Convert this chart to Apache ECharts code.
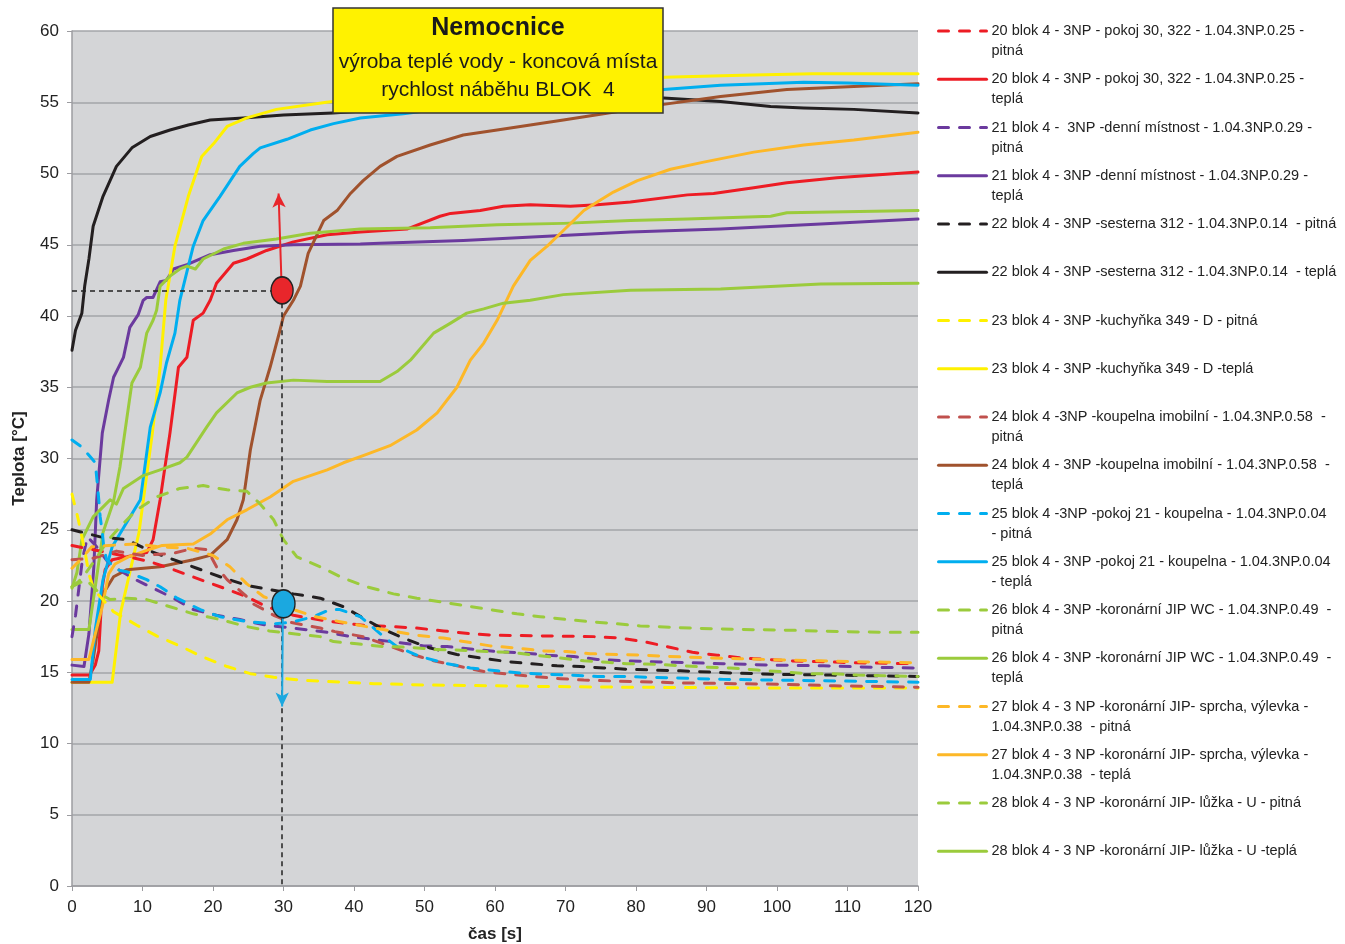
<!DOCTYPE html>
<html>
<head>
<meta charset="utf-8">
<script src="https://cdn.jsdelivr.net/npm/echarts@6/dist/echarts.min.js"></script>
<style>
  html, body { margin: 0; padding: 0; background: #fff; }
  #chart { width: 1345px; height: 944px; }
</style>
</head>
<body>
<div id="chart"></div>
<script>
// nazvy serii (legenda)
var seriesNames = [
  '20 blok 4 - 3NP - pokoj 30, 322 - 1.04.3NP.0.25 - pitná',
  '20 blok 4 - 3NP - pokoj 30, 322 - 1.04.3NP.0.25 - teplá',
  '21 blok 4 -  3NP -denní místnost - 1.04.3NP.0.29 - pitná',
  '21 blok 4 - 3NP -denní místnost - 1.04.3NP.0.29 - teplá',
  '22 blok 4 - 3NP -sesterna 312 - 1.04.3NP.0.14  - pitná',
  '22 blok 4 - 3NP -sesterna 312 - 1.04.3NP.0.14  - teplá',
  '23 blok 4 - 3NP -kuchyňka 349 - D - pitná',
  '23 blok 4 - 3NP -kuchyňka 349 - D -teplá',
  '24 blok 4 -3NP -koupelna imobilní - 1.04.3NP.0.58  - pitná',
  '24 blok 4 - 3NP -koupelna imobilní - 1.04.3NP.0.58  - teplá',
  '25 blok 4 -3NP -pokoj 21 - koupelna - 1.04.3NP.0.04 - pitná',
  '25 blok 4 - 3NP -pokoj 21 - koupelna - 1.04.3NP.0.04 - teplá',
  '26 blok 4 - 3NP -koronární JIP WC - 1.04.3NP.0.49  - pitná',
  '26 blok 4 - 3NP -koronární JIP WC - 1.04.3NP.0.49  - teplá',
  '27 blok 4 - 3 NP -koronární JIP- sprcha, výlevka - 1.04.3NP.0.38  - pitná',
  '27 blok 4 - 3 NP -koronární JIP- sprcha, výlevka - 1.04.3NP.0.38  - teplá',
  '28 blok 4 - 3 NP -koronární JIP- lůžka - U - pitná',
  '28 blok 4 - 3 NP -koronární JIP- lůžka - U -teplá'
];
var legendLabels = [
  '20 blok 4 - 3NP - pokoj 30, 322 - 1.04.3NP.0.25 -\npitná',
  '20 blok 4 - 3NP - pokoj 30, 322 - 1.04.3NP.0.25 -\nteplá',
  '21 blok 4 -  3NP -denní místnost - 1.04.3NP.0.29 -\npitná',
  '21 blok 4 - 3NP -denní místnost - 1.04.3NP.0.29 -\nteplá',
  '22 blok 4 - 3NP -sesterna 312 - 1.04.3NP.0.14  - pitná\n\u00a0',
  '22 blok 4 - 3NP -sesterna 312 - 1.04.3NP.0.14  - teplá\n\u00a0',
  '23 blok 4 - 3NP -kuchyňka 349 - D - pitná\n\u00a0',
  '23 blok 4 - 3NP -kuchyňka 349 - D -teplá\n\u00a0',
  '24 blok 4 -3NP -koupelna imobilní - 1.04.3NP.0.58  -\npitná',
  '24 blok 4 - 3NP -koupelna imobilní - 1.04.3NP.0.58  -\nteplá',
  '25 blok 4 -3NP -pokoj 21 - koupelna - 1.04.3NP.0.04\n- pitná',
  '25 blok 4 - 3NP -pokoj 21 - koupelna - 1.04.3NP.0.04\n- teplá',
  '26 blok 4 - 3NP -koronární JIP WC - 1.04.3NP.0.49  -\npitná',
  '26 blok 4 - 3NP -koronární JIP WC - 1.04.3NP.0.49  -\nteplá',
  '27 blok 4 - 3 NP -koronární JIP- sprcha, výlevka -\n1.04.3NP.0.38  - pitná',
  '27 blok 4 - 3 NP -koronární JIP- sprcha, výlevka -\n1.04.3NP.0.38  - teplá',
  '28 blok 4 - 3 NP -koronární JIP- lůžka - U - pitná\n\u00a0',
  '28 blok 4 - 3 NP -koronární JIP- lůžka - U -teplá\n\u00a0'
];
var seriesColors = [
  '#ED1C24', '#ED1C24', '#6B3A9E', '#6B3A9E', '#231F20', '#231F20',
  '#FFF100', '#FFF100', '#C0504D', '#A0522D', '#00AEEF', '#00AEEF',
  '#9BCB3C', '#9BCB3C', '#FDB827', '#FDB827', '#9BCB3C', '#9BCB3C'
];

// [cas s, teplota °C]
var s20Pitna = [[0,23.9],[3,23.6],[5,23.4],[8,23.1],[11.1,22.75],[14.4,22.2],[18.2,21.5],[21,21.0],[24.8,20.3],[27.6,19.6],[31.4,19.0],[36,18.6],[41.3,18.3],[45.6,18.2],[48.9,18.1],[52.7,17.9],[56.5,17.7],[59.8,17.6],[66.9,17.55],[74,17.5],[77.8,17.4],[81.1,17.15],[84.4,16.8],[88,16.4],[91.5,16.2],[95,16.0],[98.6,15.9],[101.9,15.8],[105.7,15.75],[109,15.7],[112.8,15.65],[120,15.6]];
var s20Tepla = [[0,14.8],[2.5,14.8],[3.3,15.5],[3.8,16.5],[4.3,21],[4.7,22.2],[5.7,22.9],[7.8,23.1],[10.6,23.4],[11.5,24.3],[12.5,27.1],[13.9,31.8],[15.1,36.4],[16.3,37.1],[17.2,39.7],[18.6,40.2],[19.6,41.1],[20.5,42.3],[22.9,43.7],[24.8,44.0],[27.6,44.6],[31.4,45.2],[36.2,45.7],[40.9,45.9],[47.5,46.1],[52.2,47.0],[53.7,47.2],[57.9,47.4],[61.2,47.7],[65,47.8],[70.7,47.7],[74.5,47.8],[79.2,48.0],[87.3,48.5],[91,48.6],[96.7,49.0],[101.4,49.35],[108.5,49.7],[120,50.1]];
var s21Pitna = [[0,17.5],[0.5,19],[1,21],[1.5,23],[2.2,24.5],[3.5,23.8],[5,22.8],[6.9,22.1],[9,21.5],[11.5,20.9],[14.4,20.2],[17.2,19.4],[20.5,19.0],[23.8,18.7],[27.6,18.3],[31.4,18.1],[36.2,17.8],[39.5,17.5],[42.8,17.3],[46.1,17.1],[49.9,16.85],[53.2,16.8],[57,16.6],[60.3,16.45],[64.1,16.35],[67.4,16.2],[71.2,16.1],[74.5,15.9],[78.3,15.8],[85.4,15.7],[92.4,15.6],[99.5,15.5],[106.6,15.45],[113.7,15.35],[120,15.3]];
var s21Tepla = [[0,15.5],[1.7,15.4],[2.4,17.7],[3.1,22.4],[3.5,27.1],[4.3,31.8],[5.2,34.1],[5.9,35.7],[6.6,36.4],[7.3,37.1],[8.2,39.2],[9.4,40.1],[10.1,41.1],[10.6,41.3],[11.5,41.3],[12.5,42.4],[13.4,42.5],[14.4,43.3],[16.3,43.6],[17.7,43.9],[19.6,44.3],[22.9,44.6],[26.7,44.9],[31.4,45.0],[40.9,45.05],[43.7,45.1],[55.5,45.3],[67.4,45.6],[79.2,45.9],[92,46.1],[106.2,46.45],[120,46.8]];
var s22Pitna = [[0,25.0],[4,24.5],[7.8,24.3],[11.1,23.5],[14.4,22.9],[17.7,22.3],[21,21.7],[24.8,21.1],[28.1,20.8],[31.4,20.5],[35.2,20.2],[38.5,19.6],[41.3,18.8],[44.2,18.0],[47.5,17.3],[50.8,16.7],[54.6,16.25],[57.9,16.0],[61.7,15.75],[65,15.6],[68.8,15.45],[72.1,15.4],[75.4,15.3],[79.2,15.2],[86.3,15.1],[93.4,14.95],[100.5,14.85],[107.6,14.8],[114.7,14.75],[120,14.7]];
var s22Tepla = [[0,37.6],[0.5,39],[1.4,40.2],[1.8,42.1],[2.4,44],[3.0,46.3],[4.4,48.4],[6.3,50.5],[8.5,51.8],[11.1,52.6],[13.9,53.05],[16.5,53.4],[19.6,53.75],[24.3,53.9],[30,54.1],[37,54.25],[45,54.5],[55,54.9],[65,55.2],[75,55.4],[83.9,55.3],[92,55.05],[99.1,54.7],[103.8,54.6],[110.9,54.5],[120,54.25]];
var s23Pitna = [[0,27.5],[0.9,25.7],[1.9,23.3],[2.4,21.9],[3.1,20.8],[5.9,19.25],[9.2,18.3],[12,17.55],[15.3,16.85],[18.4,16.1],[22,15.4],[25.3,14.9],[28.6,14.65],[32.4,14.45],[36.2,14.35],[42.8,14.2],[50.8,14.1],[60.3,14.05],[67.4,14.0],[78.3,13.95],[96.7,13.9],[120,13.9]];
var s23Tepla = [[0,14.3],[5.7,14.3],[6.9,19.2],[9.5,24.8],[11.4,31.8],[12.5,36.4],[13.3,41.1],[14.6,44.9],[16.5,48.4],[18.4,51.2],[20.1,52.1],[22,53.3],[24.8,53.9],[29,54.5],[36.1,55.0],[45,55.5],[55,56.0],[65,56.4],[75,56.6],[83.9,56.75],[95,56.9],[105,57.0],[120,57.0]];
var s24Pitna = [[0,22.9],[3,23.0],[6.3,23.5],[10,23.2],[14.4,23.35],[17.2,23.7],[19.2,23.6],[20.5,22.4],[22,21.5],[24.8,20.3],[25.7,19.8],[27.2,19.4],[28.6,19.0],[31,18.5],[35.2,18.1],[37.3,17.85],[41.3,17.5],[44.7,16.9],[48,16.3],[51.3,15.8],[55.1,15.4],[58.4,15.05],[62.2,14.85],[65.5,14.7],[69.3,14.55],[72.6,14.45],[79.2,14.35],[86.8,14.25],[94,14.2],[101,14.15],[108.1,14.05],[115.2,14.0],[120,13.95]];
var s24Tepla = [[0,14.3],[2.4,14.3],[3.0,15.9],[4.4,20.5],[5.9,21.7],[7.8,22.2],[12.5,22.4],[17.2,22.9],[19.6,23.2],[22,24.3],[23.4,25.7],[24.3,27.1],[25.3,30.6],[26.7,34.1],[28.1,36.4],[29.5,39.0],[30,40.0],[31.4,41.1],[32.4,42.1],[33.5,44.4],[35.7,46.7],[37.6,47.4],[39.5,48.6],[41.3,49.5],[43.7,50.5],[46.1,51.2],[50.8,52.0],[55.5,52.7],[60.3,53.05],[65,53.4],[69.7,53.75],[75.4,54.2],[83.9,54.85],[92,55.4],[101.4,55.9],[110.9,56.1],[120,56.3]];
var s25Pitna = [[0,31.3],[1.4,30.8],[2.8,30.0],[3.3,29.7],[3.5,28.7],[3.8,27.1],[4.0,25.9],[4.3,24.8],[4.5,23.8],[4.9,22.9],[6.3,22.2],[7.8,22.05],[10.6,21.5],[12.5,21.0],[14.9,20.2],[18.2,19.4],[21,18.9],[24.8,18.55],[28.6,18.4],[31,18.5],[34.3,18.9],[36.6,19.4],[38,19.4],[40.9,18.9],[42.8,18.1],[44.2,17.5],[46.1,16.8],[49.4,16.1],[53.2,15.6],[56.5,15.3],[60.3,15.1],[63.6,14.95],[67.4,14.85],[70.7,14.8],[74.5,14.7],[78.3,14.7],[85.4,14.6],[92.4,14.5],[99.5,14.45],[106.6,14.4],[113.7,14.35],[120,14.3]];
var s25Tepla = [[0,14.5],[2.6,14.5],[3.3,18],[4.4,21.5],[5.7,23.8],[7.5,25.3],[9.7,27.1],[11.1,32.2],[12.5,34.6],[13.4,36.7],[14.6,38.8],[15.3,41.1],[17.2,44.9],[18.6,46.7],[21,48.4],[23.8,50.5],[25.7,51.4],[26.7,51.8],[30.5,52.4],[33.8,53.05],[37.1,53.5],[40.9,53.9],[47,54.2],[55,54.7],[65,55.2],[75,55.6],[83.9,55.9],[92,56.2],[103.8,56.4],[110,56.35],[120,56.2]];
var s26Pitna = [[0,21.0],[1,21.4],[2,22],[3.3,22.9],[5,24.2],[6.8,25.2],[9.2,26.4],[12,27.3],[15.3,27.9],[18.6,28.1],[22,27.8],[24.8,27.7],[26.7,26.8],[28.6,25.7],[30,24.3],[31.9,23.1],[35.2,22.4],[38.5,21.6],[41.8,21.0],[45.6,20.5],[48.9,20.2],[52.2,19.95],[56,19.65],[59.3,19.4],[63.1,19.1],[66.4,18.9],[70.2,18.7],[73.5,18.55],[77.3,18.4],[80.6,18.25],[87.7,18.1],[94.8,18.0],[101.9,17.95],[109,17.85],[115.6,17.8],[120,17.8]];
var s26Tepla = [[0,18.0],[2.4,18.0],[3.3,21],[4.4,24.8],[5.9,27],[6.8,29.4],[7.8,32.9],[8.5,35.3],[9.7,36.4],[10.6,38.8],[11.5,39.7],[12,40.4],[12.5,42.1],[13.9,42.8],[15.3,43.3],[16.3,43.5],[17.5,43.3],[18.6,44.0],[21.5,44.7],[24.3,45.1],[29,45.4],[33.8,45.8],[40.9,46.1],[50.8,46.2],[60.3,46.4],[69.7,46.5],[79.2,46.7],[87.3,46.8],[99.1,47.0],[101.4,47.25],[120,47.4]];
var s27Pitna = [[0,22.3],[1,22.8],[2.8,23.8],[5.2,23.9],[9.2,24.0],[12.5,23.8],[16.3,23.7],[20,23.2],[22.4,22.4],[24.8,21.2],[27.2,20.3],[30,19.8],[31.4,19.4],[34.5,18.9],[38,18.55],[41.8,18.2],[48.9,17.6],[52.7,17.4],[59.3,16.85],[63.1,16.7],[66.9,16.5],[70.2,16.45],[73.5,16.3],[77.3,16.25],[80.6,16.2],[87.7,16.05],[94.8,15.95],[101.9,15.85],[106.2,15.8],[115.6,15.7],[120,15.65]];
var s27Tepla = [[0,15.9],[2.4,15.9],[3.3,17.7],[4.3,19.6],[5.2,21.9],[6.1,22.6],[8,23.1],[10.9,23.6],[12.8,23.9],[17.2,24.0],[19.6,24.7],[22,25.7],[24.8,26.4],[28.1,27.3],[31.4,28.4],[33.8,28.8],[36.2,29.2],[38.5,29.7],[41.3,30.2],[45.1,30.9],[48.9,32.0],[51.8,33.2],[54.6,35.0],[56.5,36.9],[58.4,38.1],[60.3,39.7],[62.6,42.1],[65,43.9],[67.4,44.9],[69.7,46.0],[72.6,47.4],[74.5,48.0],[76.8,48.7],[80.2,49.5],[84.9,50.3],[89.6,50.8],[96.7,51.5],[103.8,52.0],[110.9,52.35],[120,52.9]];
var s28Pitna = [[0,21.0],[2,21.5],[3,21.0],[4,20.5],[5.4,20.1],[7.8,20.2],[10.6,20.1],[13.9,19.6],[17.2,19.1],[21,18.7],[24.8,18.2],[28,17.9],[31.4,17.7],[35.2,17.5],[37.1,17.15],[40.4,17.0],[44.2,16.8],[48,16.75],[51.3,16.6],[55.1,16.55],[58.9,16.45],[62.2,16.4],[65.5,16.2],[69.3,16.0],[72.6,15.8],[75.9,15.7],[78.7,15.6],[83,15.55],[86.8,15.45],[90.1,15.35],[93.4,15.3],[97.2,15.15],[100.5,15.05],[104.3,14.9],[107.6,14.9],[111.4,14.8],[115.2,14.75],[120,14.7]];
var s28Tepla = [[0,20.9],[0.7,22.0],[1.4,24.3],[3.0,25.9],[5.4,27.1],[6.3,26.8],[7.3,27.9],[10.1,28.8],[12.5,29.2],[15.3,29.7],[16.3,30.1],[19.1,32.2],[20.5,33.2],[23.4,34.6],[25.3,35.0],[27.6,35.3],[31.4,35.5],[36.2,35.4],[43.7,35.4],[46.1,36.1],[48,36.9],[49.4,37.7],[51.3,38.8],[53.7,39.5],[56,40.2],[58.4,40.5],[61.2,40.9],[65,41.1],[69.7,41.5],[79.2,41.8],[92,41.9],[106.2,42.25],[120,42.3]];

var seriesData = [
  s20Pitna, s20Tepla, s21Pitna, s21Tepla, s22Pitna, s22Tepla,
  s23Pitna, s23Tepla, s24Pitna, s24Tepla, s25Pitna, s25Tepla,
  s26Pitna, s26Tepla, s27Pitna, s27Tepla, s28Pitna, s28Tepla
];

// odecet v 30 s
var readT = 30;
var readHot = 41.8;
var readCold = 19.8;

var fontMain = 'Liberation Sans, Arial, sans-serif';

var series = seriesNames.map(function (name, i) {
  var dashed = name.indexOf('pitná') !== -1;
  return {
    name: name,
    type: 'line',
    data: seriesData[i],
    symbol: 'none',
    smooth: false,
    color: seriesColors[i],
    lineStyle: {
      width: 3,
      color: seriesColors[i],
      type: dashed ? [10, 11] : 'solid',
      cap: 'round',
      join: 'round'
    },
    z: dashed ? 3 : 2
  };
});

// pomocne cary a sipky
series.push({
  name: 'odecet',
  type: 'line',
  data: [],
  silent: true,
  z: 4,
  markLine: {
    silent: true,
    animation: false,
    symbol: 'none',
    label: { show: false },
    emphasis: { disabled: true },
    data: [
      [
        { coord: [0, readHot], lineStyle: { color: '#222', width: 1.5, type: [5, 4] } },
        { coord: [readT - 1.6, readHot] }
      ],
      [
        { coord: [readT - 0.2, readHot - 0.9], lineStyle: { color: '#222', width: 1.5, type: [5, 4] } },
        { coord: [readT - 0.2, 0] }
      ],
      [
        { coord: [readT - 0.3, readHot + 0.8], symbol: 'none', lineStyle: { color: '#E8262B', width: 2, type: 'solid' } },
        { coord: [readT - 0.7, 48.6], symbol: 'arrow', symbolSize: [10, 14] }
      ],
      [
        { coord: [readT - 0.1, readCold - 0.9], symbol: 'none', lineStyle: { color: '#1BA8E0', width: 2, type: 'solid' } },
        { coord: [readT - 0.2, 12.6], symbol: 'arrow', symbolSize: [10, 14] }
      ]
    ]
  }
});
series.push({
  name: 'body',
  type: 'line',
  data: [],
  silent: true,
  z: 5,
  markPoint: {
    silent: true,
    animation: false,
    label: { show: false },
    data: [
      { coord: [readT - 0.2, readHot], symbol: 'circle', symbolSize: [22, 27], itemStyle: { color: '#E8262B', borderColor: '#222', borderWidth: 1.5 } },
      { coord: [readT, readCold], symbol: 'circle', symbolSize: [23, 28], itemStyle: { color: '#1BA8E0', borderColor: '#222', borderWidth: 1.5 } }
    ]
  }
});

var option = {
  animation: false,
  backgroundColor: '#fff',
  textStyle: { fontFamily: fontMain },
  title: {
    text: 'Nemocnice',
    subtext: 'výroba teplé vody - koncová místa\nrychlost náběhu BLOK  4',
    left: 492,
    top: 8,
    textAlign: 'center',
    backgroundColor: '#FFF200',
    borderColor: '#333',
    borderWidth: 1.5,
    padding: [4, 6, 9, 6],
    itemGap: 3,
    z: 10,
    textStyle: { fontSize: 25, fontWeight: 'bold', color: '#1a1a1a', fontFamily: fontMain, lineHeight: 33 },
    subtextStyle: { fontSize: 21, color: '#1a1a1a', fontFamily: fontMain, lineHeight: 28, align: 'center' }
  },
  legend: {
    orient: 'vertical',
    left: 937,
    top: 1,
    padding: 0,
    itemWidth: 48,
    itemHeight: 14,
    itemGap: -11.75,
    data: seriesNames,
    selectedMode: false,
    itemStyle: { color: 'rgba(0,0,0,0)', borderWidth: 0, opacity: 0 },
    lineStyle: { width: 3 },
    formatter: function (name) {
      return '\u00a0\n' + legendLabels[seriesNames.indexOf(name)];
    },
    textStyle: {
      fontSize: 14.5,
      color: '#222',
      fontFamily: fontMain,
      lineHeight: 20
    }
  },
  grid: {
    left: 72,
    right: 427,
    top: 31,
    bottom: 58,
    outerBoundsMode: 'none',
    show: true,
    backgroundColor: '#D4D5D7',
    borderWidth: 0
  },
  xAxis: {
    type: 'value',
    min: 0,
    max: 120,
    interval: 10,
    name: 'čas [s]',
    nameLocation: 'middle',
    nameGap: 40,
    nameTextStyle: { fontSize: 17, fontWeight: 'bold', color: '#222' },
    axisLine: { show: true, onZero: false, lineStyle: { color: '#9C9CA0', width: 1.5 } },
    axisTick: { show: true, length: 5, lineStyle: { color: '#9C9CA0' } },
    axisLabel: { fontSize: 17, color: '#222', margin: 13 },
    splitLine: { show: false }
  },
  yAxis: {
    type: 'value',
    min: 0,
    max: 60,
    interval: 5,
    name: 'Teplota [°C]',
    nameLocation: 'middle',
    nameGap: 44,
    nameTextStyle: { fontSize: 17, fontWeight: 'bold', color: '#222' },
    axisLine: { show: true, lineStyle: { color: '#9C9CA0', width: 1.5 } },
    axisTick: { show: true, length: 5, lineStyle: { color: '#9C9CA0' } },
    axisLabel: { fontSize: 17, color: '#222', margin: 13 },
    splitLine: { show: true, lineStyle: { color: '#A3A4A8', width: 1.5 } }
  },
  series: series
};

var chart = echarts.init(document.getElementById('chart'));
chart.setOption(option);
</script>
</body>
</html>
